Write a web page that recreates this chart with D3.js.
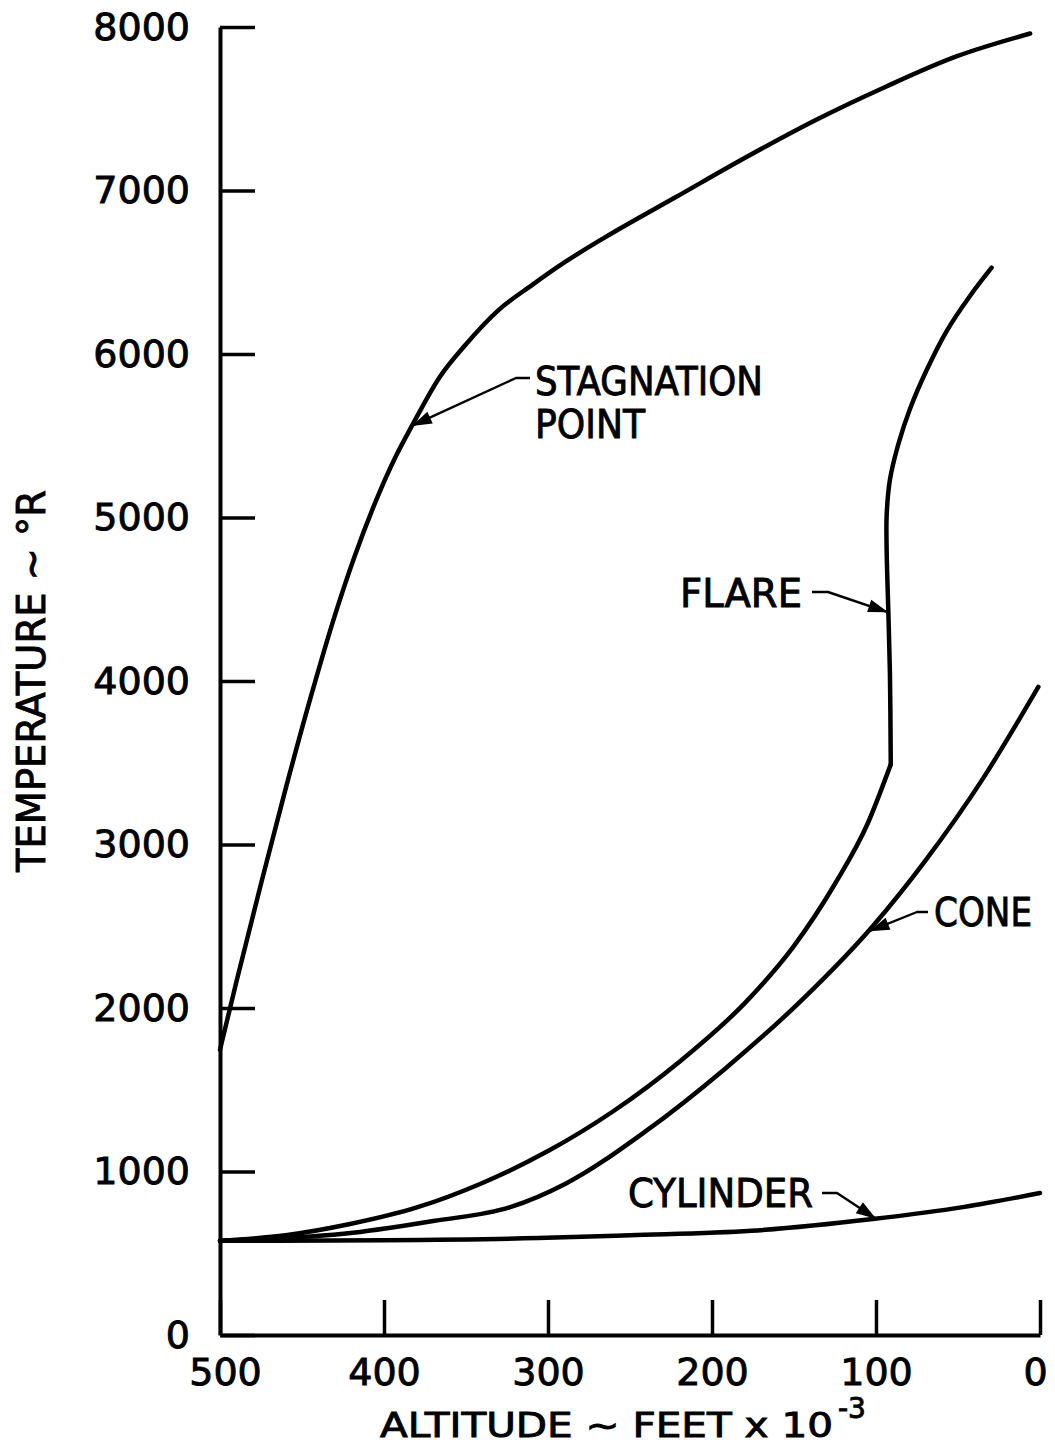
<!DOCTYPE html>
<html>
<head>
<meta charset="utf-8">
<script src="https://cdn.jsdelivr.net/npm/d3@7"></script>
<style>
  body { margin: 0; background: #fff; }
  svg { display: block; }
  text { font-family: "DejaVu Sans", sans-serif; fill: #000; stroke: #000; stroke-width: 0.9; }
</style>
</head>
<body>
<script>
// Altitude in thousands of feet, temperature in degrees Rankine
const altTicks = [500, 400, 300, 200, 100, 0];
const tempTicks = [0, 1000, 2000, 3000, 4000, 5000, 6000, 7000, 8000];

const stagnationAlt  = [500, 490, 475, 460, 445, 430, 418, 405, 393, 383, 366, 350, 330, 310, 290, 265, 222, 179, 137, 94, 51, 6];
const stagnationTemp = [1745, 2160, 2760, 3340, 3890, 4400, 4760, 5100, 5370, 5560, 5860, 6060, 6270, 6420, 6560, 6715, 6960, 7205, 7430, 7635, 7820, 7960];

// flare: smooth rise up to the kink, then the near-vertical climb and upper bend
const flareLowAlt   = [500, 460, 420, 380, 340, 300, 260, 220, 180, 150, 125, 105, 91];
const flareLowTemp  = [576, 610, 680, 780, 930, 1125, 1370, 1670, 2030, 2380, 2760, 3130, 3490];
const flareHighAlt  = [91, 91.5, 92.5, 93.5, 93.5, 91.5, 86.4, 79.3, 69.1, 57, 42.7, 29.5];
const flareHighTemp = [3490, 4043, 4432, 4799, 5015, 5231, 5448, 5664, 5902, 6139, 6355, 6528];

const coneAlt  = [500, 419, 370, 323, 289, 241, 192, 144, 102, 70, 35, 1];
const coneTemp = [576, 625, 697, 782, 927, 1242, 1629, 2060, 2500, 2900, 3400, 3964];

const cylinderAlt  = [500, 400, 306, 250, 176, 102, 47, 0];
const cylinderTemp = [576, 580, 593, 610, 637, 709, 782, 868];

const seriesLabels = ["STAGNATION", "POINT", "FLARE", "CONE", "CYLINDER"];

const W = 1055, H = 1447;
const svg = d3.select("body").append("svg").attr("width", W).attr("height", H);

const x = d3.scaleLinear().domain([500, 0]).range([220, 1040]);
const y = d3.scaleLinear().domain([0, 8000]).range([1335, 27]);

// axes: ticks point into the plot area
const yAxis = svg.append("g").attr("transform", `translate(${x(500)},0)`)
  .call(d3.axisLeft(y).tickValues(tempTicks).tickFormat(d3.format("d"))
    .tickSize(-35).tickSizeOuter(0).tickPadding(30));
const xAxis = svg.append("g").attr("transform", `translate(0,${y(0)})`)
  .call(d3.axisBottom(x).tickValues(altTicks).tickFormat(d3.format("d"))
    .tickSize(-35).tickSizeOuter(0).tickPadding(23));

[xAxis, yAxis].forEach(g => {
  g.selectAll("path.domain").attr("stroke", "#000").attr("stroke-width", 4);
  g.selectAll(".tick line").attr("stroke", "#000").attr("stroke-width", 3.5);
  g.selectAll(".tick text").attr("font-family", "DejaVu Sans").attr("font-size", 38)
    .attr("fill", "#000").attr("stroke", "#000").attr("stroke-width", 0.9);
});
xAxis.selectAll(".tick text").attr("dx", d => d === 0 ? -5 : (d === 500 ? 5 : 0));

// axis titles
svg.append("text")
  .attr("transform", `translate(45,681) rotate(-90)`)
  .attr("text-anchor", "middle").attr("font-size", 39)
  .attr("textLength", 382).attr("lengthAdjust", "spacingAndGlyphs")
  .text("TEMPERATURE ~ °R");

svg.append("text")
  .attr("x", 380).attr("y", 1437).attr("font-size", 34)
  .attr("textLength", 453).attr("lengthAdjust", "spacingAndGlyphs")
  .text("ALTITUDE ~ FEET x 10");
svg.append("text")
  .attr("x", 838).attr("y", 1418).attr("font-size", 28)
  .text("-3");

// curves
const zip = (a, b) => a.map((v, i) => [v, b[i]]);
const lineWith = c => d3.line().x(d => x(d[0])).y(d => y(d[1])).curve(c);
const smooth = lineWith(d3.curveMonotoneX);
const bend = lineWith(d3.curveCatmullRom.alpha(0.5));
const curves = [
  { pts: zip(stagnationAlt, stagnationTemp), gen: smooth },
  { pts: zip(flareLowAlt, flareLowTemp), gen: smooth },
  { pts: zip(flareHighAlt, flareHighTemp), gen: bend },
  { pts: zip(coneAlt, coneTemp), gen: smooth },
  { pts: zip(cylinderAlt, cylinderTemp), gen: smooth }
];
svg.append("g").selectAll("path").data(curves).join("path")
  .attr("d", d => d.gen(d.pts))
  .attr("fill", "none").attr("stroke", "#000").attr("stroke-width", 4.5)
  .attr("stroke-linejoin", "round").attr("stroke-linecap", "round");

// labels with leader arrows
function label(str, px, py, len) {
  svg.append("text").attr("x", px).attr("y", py).attr("font-size", 39)
    .attr("textLength", len).attr("lengthAdjust", "spacingAndGlyphs").text(str);
}
function leader(points) {
  svg.append("path").attr("d", d3.line()(points))
    .attr("fill", "none").attr("stroke", "#000").attr("stroke-width", 2.4)
    .attr("stroke-linejoin", "round");
  const [ax, ay] = points[points.length - 2];
  const [bx, by] = points[points.length - 1];
  const ang = Math.atan2(by - ay, bx - ax);
  const L = 20, hw = 6.5;
  const cx = bx - L * Math.cos(ang), cy = by - L * Math.sin(ang);
  const nx = -Math.sin(ang) * hw, ny = Math.cos(ang) * hw;
  svg.append("path")
    .attr("d", `M${bx},${by}L${cx + nx},${cy + ny}L${cx - nx},${cy - ny}Z`)
    .attr("fill", "#000");
}

label(seriesLabels[0], 535, 395, 228);
label(seriesLabels[1], 535, 438, 110);
leader([[530, 378], [516, 378], [x(383), y(5560)]]);

label(seriesLabels[2], 680, 607, 122);
leader([[812, 592], [828, 592], [x(92.6), y(4420)]]);

label(seriesLabels[3], 934, 926, 98);
leader([[928, 912], [917, 912], [x(104), y(2470)]]);

label(seriesLabels[4], 628, 1207, 185);
leader([[822, 1193], [837, 1193], [x(100), y(711)]]);
</script>
</body>
</html>
